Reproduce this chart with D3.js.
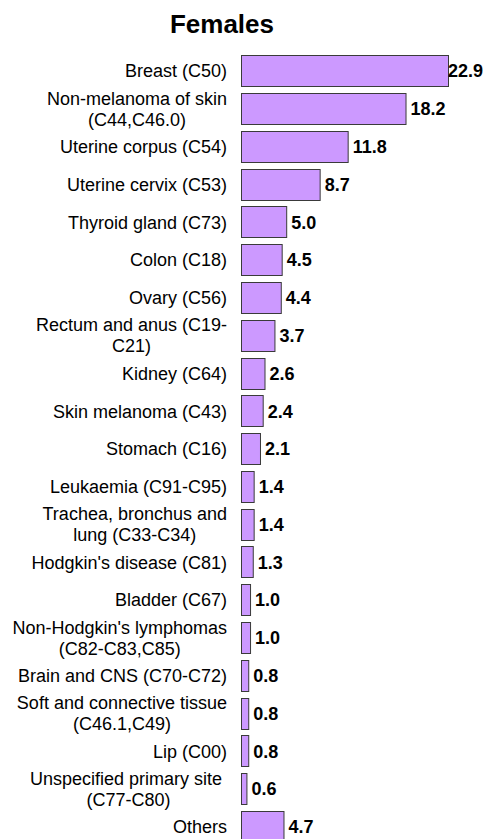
<!DOCTYPE html>
<html>
<head>
<meta charset="utf-8">
<script src="https://cdn.jsdelivr.net/npm/d3@7"></script>
<style>
  html, body { margin: 0; padding: 0; background: #fff; }
  svg { display: block; }
</style>
</head>
<body>
<script>
const title = "Females";
const categories = [
  "Breast (C50)",
  "Non-melanoma of skin\n(C44,C46.0)",
  "Uterine corpus (C54)",
  "Uterine cervix (C53)",
  "Thyroid gland (C73)",
  "Colon (C18)",
  "Ovary (C56)",
  "Rectum and anus (C19-\nC21)",
  "Kidney (C64)",
  "Skin melanoma (C43)",
  "Stomach (C16)",
  "Leukaemia (C91-C95)",
  "Trachea, bronchus and\nlung (C33-C34)",
  "Hodgkin's disease (C81)",
  "Bladder (C67)",
  "Non-Hodgkin's lymphomas\n(C82-C83,C85)",
  "Brain and CNS (C70-C72)",
  "Soft and connective tissue\n(C46.1,C49)",
  "Lip (C00)",
  "Unspecified primary site \n(C77-C80)",
  "Others"
];
const values = [22.9, 18.2, 11.8, 8.7, 5.0, 4.5, 4.4, 3.7, 2.6, 2.4, 2.1, 1.4, 1.4, 1.3, 1.0, 1.0, 0.8, 0.8, 0.8, 0.6, 4.7];

const W = 486, H = 839;
const font = "Arial, 'Liberation Sans', sans-serif";
const svg = d3.select("body").append("svg").attr("width", W).attr("height", H);

svg.append("text")
  .attr("x", 222).attr("y", 33)
  .attr("text-anchor", "middle")
  .style("font-family", font).style("font-weight", "bold").style("font-size", "26px")
  .text(title);

const x = d3.scaleLinear().domain([0, 22.9]).range([241, 448]);
const y = d3.scaleBand().domain(categories).range([52, 52 + 21 * 37.79])
  .paddingInner(0.17).paddingOuter(0.085);

const data = categories.map((c, i) => ({ c, v: values[i] }));

svg.append("g").selectAll("rect").data(data).join("rect")
  .attr("x", x(0) + 0.5)
  .attr("y", d => Math.round(y(d.c)) + 0.5)
  .attr("width", d => x(d.v) - x(0))
  .attr("height", Math.round(y.bandwidth()))
  .attr("fill", "#cc99ff")
  .attr("stroke", "#3a3a3a")
  .attr("stroke-width", 1);

// category labels
const labelRight = 227;
const lineH = 21;
const lg = svg.append("g").style("font-family", font).style("font-size", "18px").attr("fill", "#000");
data.forEach(d => {
  const lines = d.c.split("\n");
  const t = lg.append("text").attr("xml:space", "preserve").attr("text-anchor", "middle");
  const cy = y(d.c) + y.bandwidth() / 2;
  const spans = lines.map((ln, i) => t.append("tspan")
    .attr("y", cy + 6.5 + (i - (lines.length - 1) / 2) * lineH)
    .text(ln));
  const maxW = d3.max(spans, s => s.node().getComputedTextLength());
  spans.forEach(s => s.attr("x", labelRight - maxW / 2));
});

// value labels
const vg = svg.append("g").style("font-family", font).style("font-size", "18px").style("font-weight", "bold");
vg.selectAll("text").data(data).join("text")
  .attr("y", d => y(d.c) + y.bandwidth() / 2 + 6.5)
  .text(d => d.v.toFixed(1))
  .attr("x", function (d) {
    const w = this.getComputedTextLength();
    return Math.min(x(d.v) + 5, W - w - 3);
  });
</script>
</body>
</html>
